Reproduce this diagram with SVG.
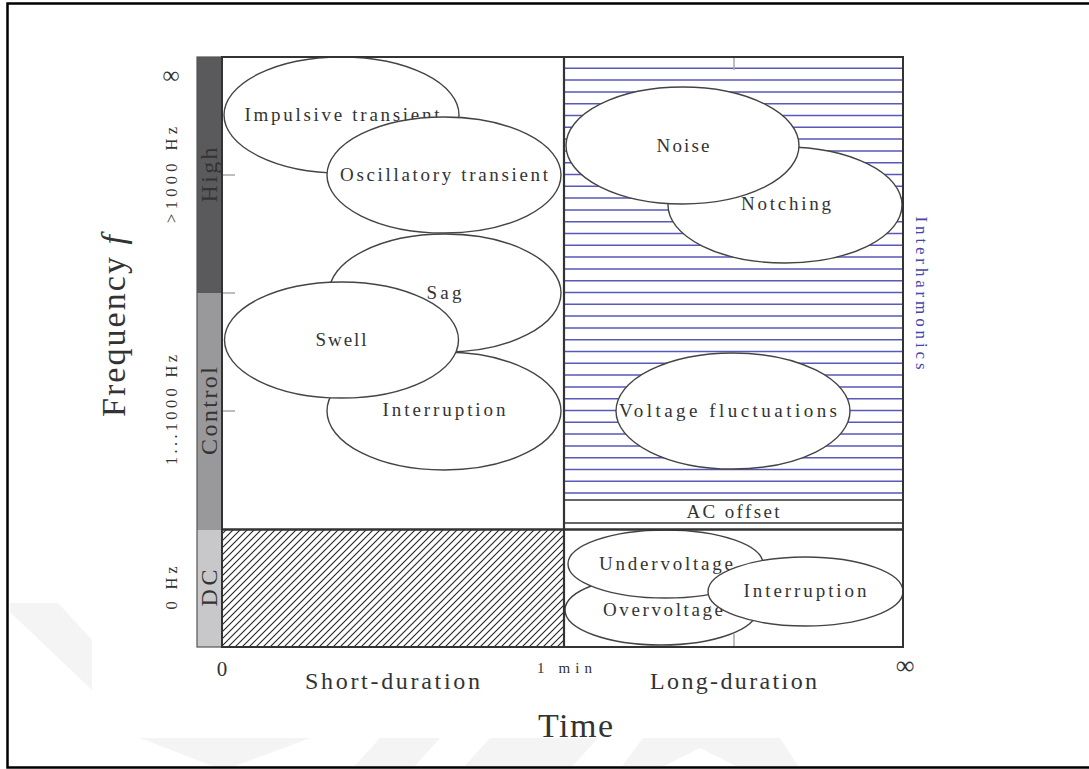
<svg xmlns="http://www.w3.org/2000/svg" width="1089" height="769" viewBox="0 0 1089 769">
  <defs>
    <pattern id="hatch" patternUnits="userSpaceOnUse" width="7" height="7">
      <path d="M-1,8 L8,-1 M-1,1 L1,-1 M6,8 L8,6" stroke="#222" stroke-width="1.1"/>
    </pattern>
    <style>
      .lbl { font-family: "Liberation Serif", "DejaVu Serif", serif; fill: #333; text-anchor: middle; }
      .ev { font-size: 19px; }
      .ell { fill: #fff; stroke: #444; stroke-width: 1.4; }
      .tick { stroke: #a8a8a8; stroke-width: 1.5; }
      .box { fill: none; stroke: #333; stroke-width: 2; }
      .wm { fill: #f4f4f4; }
    </style>
  </defs>

  <rect width="1089" height="769" fill="#fff"/>

  <!-- faint background marks -->
  <g id="background-marks">
    <polygon class="wm" points="10,603 58,603 92,640 92,690 10,612"/>
    <polygon class="wm" points="140,738 310,738 227,769 220,769"/>
    <polygon class="wm" points="380,738 440,738 412,769 352,769"/>
    <polygon class="wm" points="490,738 598,738 570,769 462,769"/>
    <polygon class="wm" points="643,738 780,738 800,769 742,769 700,748 658,769 620,769"/>
  </g>

  <!-- outer frame -->
  <path d="M1090,3.5 H7.5 V767.5 H1090" fill="none" stroke="#000" stroke-width="2.5"/>

  <!-- frequency band bar -->
  <g id="band-bar">
    <rect x="197" y="57" width="25" height="236" fill="#5a5a5c"/>
    <rect x="197" y="293" width="25" height="237" fill="#99999b"/>
    <rect x="197" y="530" width="25" height="117" fill="#c8c8ca"/>
    <rect x="197" y="57" width="25" height="590" fill="none" stroke="#555" stroke-width="1.2"/>
    <text class="lbl" font-size="24" textLength="55" transform="translate(217,175) rotate(-90)">High</text>
    <text class="lbl" font-size="24" textLength="88" transform="translate(217,411) rotate(-90)">Control</text>
    <text class="lbl" font-size="24" textLength="37" transform="translate(217,588) rotate(-90)">DC</text>
  </g>

  <!-- interharmonic region (long duration, AC) -->
  <g id="interharmonics-region">
    <path stroke="#5858b8" stroke-width="1.5" d="M564,68.3H903M564,80.1H903M564,91.9H903M564,103.7H903M564,115.5H903M564,127.3H903M564,139.1H903M564,150.9H903M564,162.7H903M564,174.5H903M564,186.3H903M564,198.1H903M564,209.9H903M564,221.7H903M564,233.5H903M564,245.3H903M564,257.1H903M564,268.9H903M564,280.7H903M564,292.5H903M564,304.3H903M564,316.1H903M564,327.9H903M564,339.7H903M564,351.5H903M564,363.3H903M564,375.1H903M564,386.9H903M564,398.7H903M564,410.5H903M564,422.3H903M564,434.1H903M564,445.9H903M564,457.7H903M564,469.5H903M564,481.3H903M564,493.1H903"/>
  </g>

  <!-- DC short duration (hatched) -->
  <g id="dc-short">
    <rect x="222" y="530" width="342" height="117" fill="url(#hatch)"/>
  </g>

  <!-- ticks -->
  <g id="ticks">
    <line class="tick" x1="222" y1="175" x2="235" y2="175"/>
    <line class="tick" x1="222" y1="293" x2="235" y2="293"/>
    <line class="tick" x1="222" y1="411" x2="235" y2="411"/>
    <line class="tick" x1="734" y1="57" x2="734" y2="70"/>
    <line class="tick" x1="734" y1="634" x2="734" y2="647"/>
  </g>

  <!-- short-duration events -->
  <g id="impulsive-transient">
    <ellipse class="ell" cx="341.5" cy="115" rx="117.5" ry="58"/>
    <text class="lbl ev" x="342" y="121" textLength="195">Impulsive transient</text>
  </g>
  <g id="oscillatory-transient">
    <ellipse class="ell" cx="444" cy="175" rx="117" ry="58"/>
    <text class="lbl ev" x="444" y="181" textLength="208">Oscillatory transient</text>
  </g>
  <g id="sag">
    <ellipse class="ell" cx="445" cy="293" rx="116" ry="59"/>
    <text class="lbl ev" x="444" y="299" textLength="35">Sag</text>
  </g>
  <g id="interruption-short">
    <ellipse class="ell" cx="444" cy="411" rx="117" ry="59"/>
    <text class="lbl ev" x="444" y="416" textLength="123">Interruption</text>
  </g>
  <g id="swell">
    <ellipse class="ell" cx="341.5" cy="340" rx="117" ry="58"/>
    <text class="lbl ev" x="341" y="346" textLength="51">Swell</text>
  </g>

  <!-- long-duration events -->
  <g id="notching">
    <ellipse class="ell" cx="785" cy="205" rx="117" ry="58"/>
    <text class="lbl ev" x="786" y="210" textLength="90">Notching</text>
  </g>
  <g id="noise">
    <ellipse class="ell" cx="682.5" cy="145.5" rx="116.5" ry="58.5"/>
    <text class="lbl ev" x="683" y="152" textLength="53">Noise</text>
  </g>
  <g id="voltage-fluctuations">
    <ellipse class="ell" cx="733" cy="411" rx="117" ry="58"/>
    <text class="lbl ev" x="728" y="417" textLength="218">Voltage fluctuations</text>
  </g>
  <g id="ac-offset">
    <rect x="564" y="500" width="339" height="23" fill="#fff" stroke="#333" stroke-width="1.5"/>
    <text class="lbl ev" x="733" y="518" textLength="93">AC offset</text>
  </g>
  <g id="overvoltage">
    <ellipse class="ell" cx="661" cy="610" rx="96" ry="35"/>
    <text class="lbl ev" x="663" y="616" textLength="120">Overvoltage</text>
  </g>
  <g id="undervoltage">
    <ellipse class="ell" cx="665.5" cy="564" rx="97.5" ry="34"/>
    <text class="lbl ev" x="666" y="570" textLength="134">Undervoltage</text>
  </g>
  <g id="interruption-long">
    <ellipse class="ell" cx="805.5" cy="591.5" rx="97.5" ry="34.5"/>
    <text class="lbl ev" x="805" y="597" textLength="123">Interruption</text>
  </g>

  <!-- frame of the chart -->
  <g id="chart-frame">
    <rect class="box" x="222" y="57" width="681" height="590"/>
    <line x1="564" y1="57" x2="564" y2="647" stroke="#333" stroke-width="2.2"/>
    <line x1="222" y1="529.5" x2="903" y2="529.5" stroke="#333" stroke-width="2.5"/>
  </g>

  <!-- axis labels -->
  <g id="axis-labels">
    <text class="lbl" font-size="24" x="171" y="83">∞</text>
    <text class="lbl" font-size="16.5" textLength="96" transform="translate(177,175) rotate(-90)">&gt;1000 Hz</text>
    <text class="lbl" font-size="16.5" textLength="110" transform="translate(177,410) rotate(-90)">1...1000 Hz</text>
    <text class="lbl" font-size="16.5" textLength="43" transform="translate(177,588) rotate(-90)">0 Hz</text>
    <text class="lbl" font-size="34" textLength="182" transform="translate(125,326) rotate(-90)">Frequency <tspan font-style="italic">f</tspan></text>
    <text class="lbl" font-size="17" textLength="153" style="fill:#4646a6" transform="translate(916,293) rotate(90)">Interharmonics</text>
    <text class="lbl" font-size="21" x="222" y="676">0</text>
    <text class="lbl" font-size="15" x="564.5" y="673" textLength="55">1 min</text>
    <text class="lbl" font-size="26" x="905" y="674">∞</text>
    <text class="lbl" font-size="24" x="392.5" y="689" textLength="175">Short-duration</text>
    <text class="lbl" font-size="24" x="733.5" y="689" textLength="167">Long-duration</text>
    <text class="lbl" font-size="34" x="575.5" y="737" textLength="75">Time</text>
  </g>
</svg>
